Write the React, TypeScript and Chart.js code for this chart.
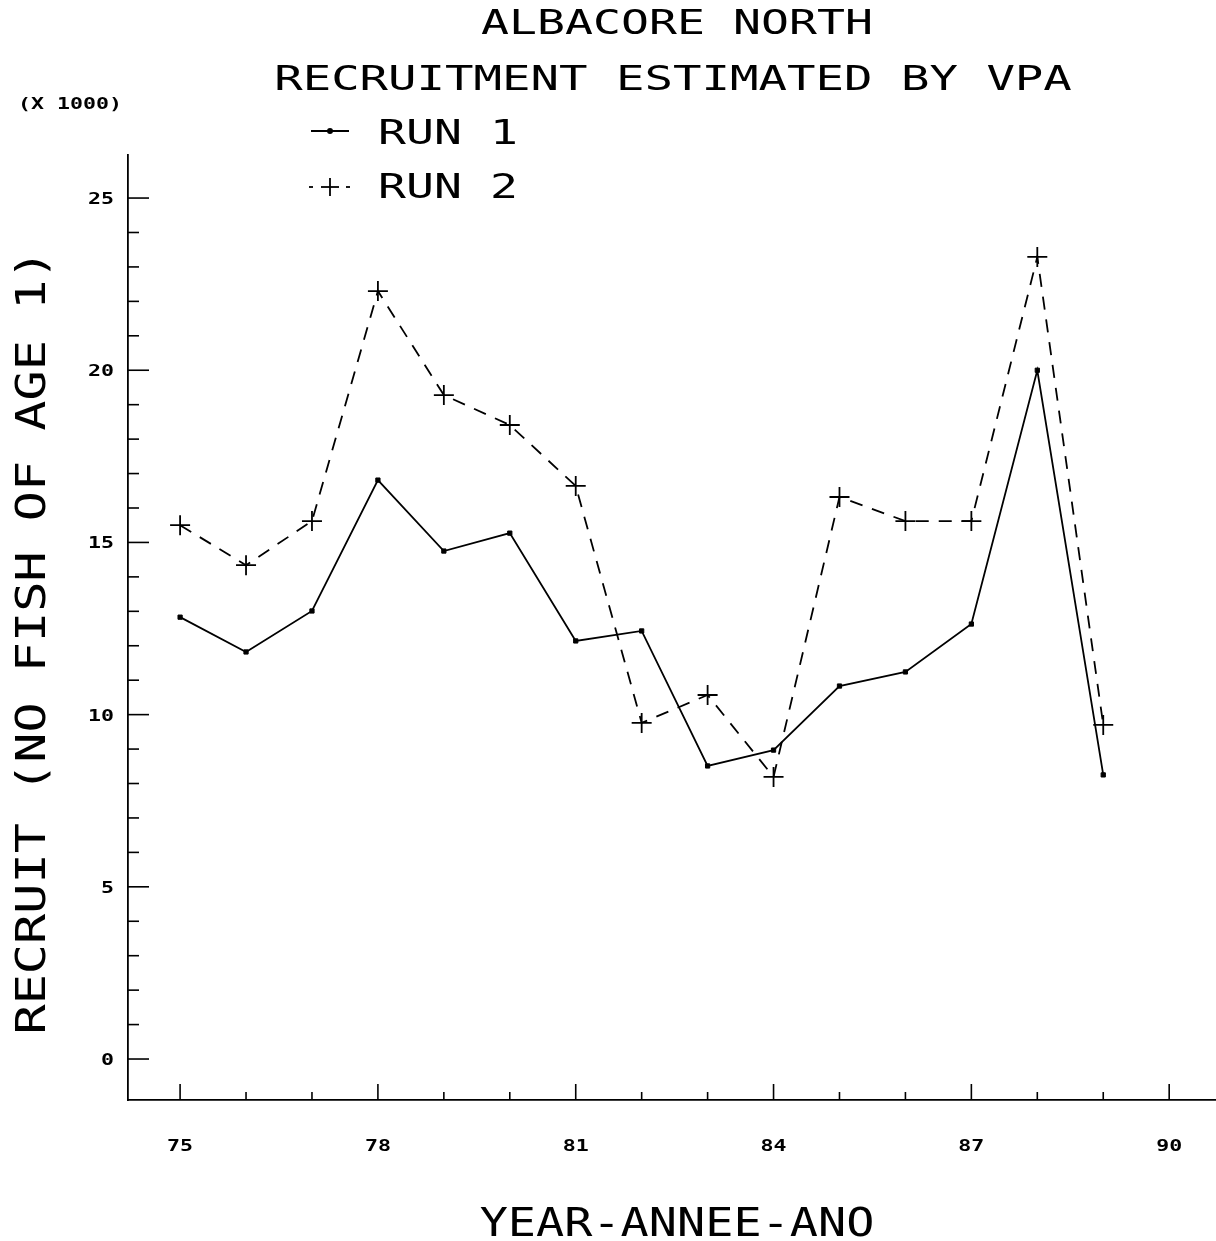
import React, { useEffect, useRef } from "react";
import { Chart, registerables } from "chart.js";

Chart.register(...registerables);

// ---- Data ----
const years = [75, 76, 77, 78, 79, 80, 81, 82, 83, 84, 85, 86, 87, 88, 89];
const run1 = [12.83, 11.82, 13.01, 16.81, 14.75, 15.27, 12.14, 12.43, 8.51, 8.97, 10.83, 11.24, 12.63, 20.0, 8.25];
const run2 = [15.5, 14.34, 15.62, 22.3, 19.28, 18.41, 16.64, 9.76, 10.57, 8.19, 16.32, 15.62, 15.62, 23.29, 9.7];
const xTickLabels = [75, 78, 81, 84, 87, 90];
const yTickLabels = [0, 5, 10, 15, 20, 25];
const titleLines = ["ALBACORE NORTH", "RECRUITMENT ESTIMATED BY VPA"];
const seriesNames = ["RUN 1", "RUN 2"];
const xAxisTitle = "YEAR-ANNEE-ANO";
const yAxisTitle = "RECRUIT (NO FISH OF AGE 1)";
const unitLabel = "(X 1000)";

const FONT = '"DejaVu Sans Mono", "Liberation Mono", monospace';

function drawText(
  ctx: CanvasRenderingContext2D,
  text: string,
  x: number,
  y: number,
  cap: number,
  pitch: number,
  align: CanvasTextAlign,
  rot = 0,
  weight = "normal"
) {
  const size = cap / 0.729;
  const adv = 0.602 * size;
  const sx = pitch / adv;
  ctx.save();
  ctx.translate(x, y);
  ctx.rotate(rot);
  ctx.scale(sx, 1);
  ctx.font = `${weight} ${size}px ${FONT}`;
  ctx.fillStyle = "#000";
  ctx.textAlign = align;
  ctx.textBaseline = "alphabetic";
  ctx.fillText(text, 0, cap / 2);
  ctx.restore();
}

function line(ctx: CanvasRenderingContext2D, x1: number, y1: number, x2: number, y2: number) {
  ctx.beginPath();
  ctx.moveTo(x1, y1);
  ctx.lineTo(x2, y2);
  ctx.stroke();
}

const plotterPlugin = {
  id: "plotterDecor",
  afterDraw(chart: any) {
    const ctx: CanvasRenderingContext2D = chart.ctx;
    const xs = chart.scales.x;
    const ys = chart.scales.y;
    const area = chart.chartArea;
    ctx.save();
    ctx.strokeStyle = "#000";
    ctx.lineWidth = 1.6;

    // x tick marks (inside)
    const xFirst = xTickLabels[0];
    const xLast = xTickLabels[xTickLabels.length - 1];
    for (let v = xFirst; v <= xLast; v++) {
      const px = xs.getPixelForValue(v);
      const major = xTickLabels.includes(v);
      line(ctx, px, area.bottom, px, area.bottom - (major ? 16 : 8));
    }
    // y tick marks (inside)
    const yFirst = yTickLabels[0];
    const yLast = yTickLabels[yTickLabels.length - 1];
    for (let v = yFirst; v <= yLast; v++) {
      const py = ys.getPixelForValue(v);
      const major = yTickLabels.includes(v);
      line(ctx, area.left, py, area.left + (major ? 21 : 11), py);
    }

    // tick labels
    xTickLabels.forEach((v) => {
      drawText(ctx, String(v), xs.getPixelForValue(v), 1145, 12, 13, "center", 0, "bold");
    });
    yTickLabels.forEach((v) => {
      drawText(ctx, String(v), 114, ys.getPixelForValue(v), 12, 13, "right", 0, "bold");
    });

    // titles
    drawText(ctx, titleLines[0], 677, 22, 24, 28, "center");
    drawText(ctx, titleLines[1], 673, 78, 24, 28.5, "center");
    drawText(ctx, unitLabel, 18, 103, 11, 13, "left", 0, "bold");

    // axis titles
    drawText(ctx, xAxisTitle, 677, 1222, 28, 28.2, "center");
    drawText(ctx, yAxisTitle, 30, 642, 30, 30.2, "center", -Math.PI / 2);

    // legend
    const ly1 = 131;
    const ly2 = 187;
    ctx.lineWidth = 1.8;
    ctx.setLineDash([]);
    line(ctx, 311, ly1, 349, ly1);
    ctx.fillStyle = "#000";
    ctx.beginPath();
    ctx.arc(330, ly1, 3, 0, Math.PI * 2);
    ctx.fill();
    drawText(ctx, seriesNames[0], 378, ly1 + 1, 24, 28, "left");

    line(ctx, 309, ly2, 313, ly2);
    line(ctx, 346, ly2, 350, ly2);
    line(ctx, 321, ly2, 339, ly2);
    line(ctx, 330, ly2 - 9, 330, ly2 + 9);
    drawText(ctx, seriesNames[1], 378, ly2 - 1, 24, 28, "left");

    ctx.restore();
  },
};

export default function App() {
  const canvasRef = useRef<HTMLCanvasElement | null>(null);

  useEffect(() => {
    if (!canvasRef.current) return;
    const chart = new Chart(canvasRef.current, {
      type: "line",
      data: {
        datasets: [
          {
            label: seriesNames[0],
            data: years.map((y, i) => ({ x: y, y: run1[i] })),
            borderColor: "#000",
            backgroundColor: "#000",
            borderWidth: 1.8,
            pointStyle: "rect",
            pointRadius: 3,
            pointBorderWidth: 1,
            pointBackgroundColor: "#000",
            pointBorderColor: "#000",
            tension: 0,
            fill: false,
          },
          {
            label: seriesNames[1],
            data: years.map((y, i) => ({ x: y, y: run2[i] })),
            borderColor: "#000",
            backgroundColor: "#000",
            borderWidth: 1.8,
            borderDash: [13, 10],
            pointStyle: "cross",
            pointRadius: 10,
            pointBorderWidth: 1.8,
            pointBorderColor: "#000",
            tension: 0,
            fill: false,
          },
        ],
      },
      options: {
        animation: false,
        responsive: false,
        devicePixelRatio: 1,
        layout: { autoPadding: false, padding: { top: 155, left: 0, right: 0, bottom: 0 } },
        plugins: {
          legend: { display: false },
          title: { display: false },
          tooltip: { enabled: false },
        },
        scales: {
          x: {
            type: "linear",
            min: 74.21,
            max: 90.71,
            grid: { display: false },
            ticks: { display: false },
            border: { display: true, color: "#000", width: 1.8 },
            afterFit: (s: any) => {
              s.height = 141;
            },
          },
          y: {
            type: "linear",
            min: -1.19,
            max: 26.25,
            grid: { display: false },
            ticks: { display: false },
            border: { display: true, color: "#000", width: 1.8 },
            afterFit: (s: any) => {
              s.width = 128;
            },
          },
        },
      },
      plugins: [plotterPlugin],
    });
    return () => chart.destroy();
  }, []);

  return (
    <div style={{ position: "absolute", left: 0, top: 0, width: 1216, height: 1241, background: "#fff" }}>
      <canvas ref={canvasRef} width={1216} height={1241} style={{ display: "block" }} />
    </div>
  );
}
